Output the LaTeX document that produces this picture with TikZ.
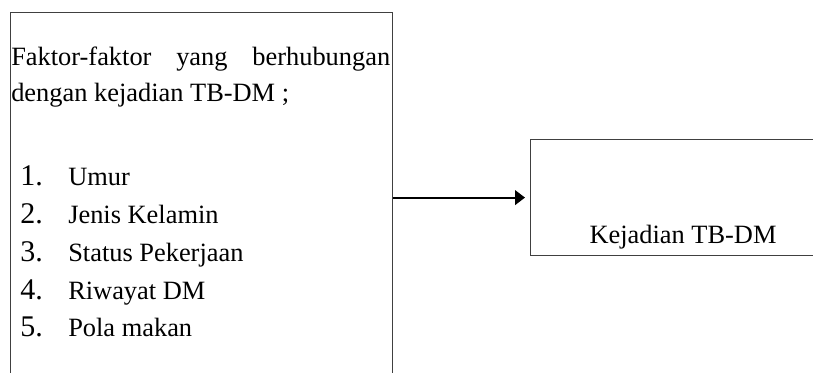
\documentclass[tikz,border=0pt]{standalone}
\usepackage{fontspec}
\setmainfont{Liberation Serif}
\usetikzlibrary{arrows.meta}
\begin{document}
\begin{tikzpicture}[x=0.75pt,y=-0.75pt,
  boxline/.style={draw=black!75,line width=0.9pt,inner sep=0pt},
  txt/.style={inner sep=0pt,anchor=base west,font=\fontsize{19.8}{23}\selectfont},
  num/.style={inner sep=0pt,anchor=base west,font=\fontsize{22.5}{26}\selectfont},
  conn/.style={line width=1.5pt,-{Triangle[length=7.5pt,width=11pt]},shorten >=3.75pt}]
\useasboundingbox (0,0) rectangle (813,372);
\clip (0,0) rectangle (813,372);
\node[boxline,anchor=north west,minimum width={382*0.75pt},minimum height={400*0.75pt}] (left) at (10,12) {};
\node[boxline,anchor=north west,minimum width={300*0.75pt},minimum height={116*0.75pt}] (right) at (530,139) {};
\node[txt] (l1) at (11,65.7) {\makebox[284.25pt][s]{Faktor-faktor\hfill yang\hfill berhubungan}};
\node[txt] (l2) at (11,101.5) {dengan kejadian TB-DM ;};
\node[num] (n1) at (20,185.7) {1.};
\node[txt] (i1) at (68,185.7) {Umur};
\node[num] (n2) at (20,223.5) {2.};
\node[txt] (i2) at (68,223.5) {Jenis Kelamin};
\node[num] (n3) at (20,261.3) {3.};
\node[txt] (i3) at (68,261.3) {Status Pekerjaan};
\node[num] (n4) at (20,299.1) {4.};
\node[txt] (i4) at (68,299.1) {Riwayat DM};
\node[num] (n5) at (20,336.9) {5.};
\node[txt] (i5) at (68,336.9) {Pola makan};
\node[txt,anchor=base] (k) at (683,243) {Kejadian TB-DM};
\draw[conn] (left.east |- right.west) -- (right.west);
\end{tikzpicture}
\end{document}
